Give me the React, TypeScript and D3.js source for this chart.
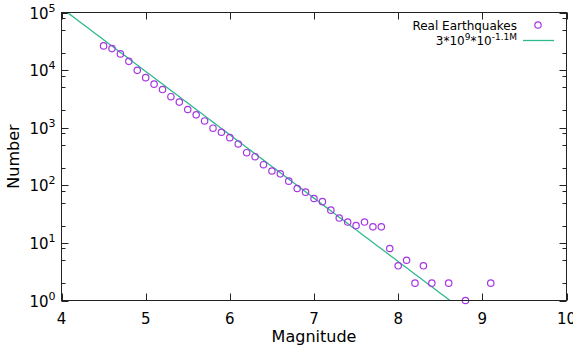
import { useEffect, useRef } from "react";
import * as d3 from "d3";

// magnitude bins and observed counts
const magnitudes = [
  4.5, 4.6, 4.7, 4.8, 4.9, 5.0, 5.1, 5.2, 5.3, 5.4, 5.5, 5.6, 5.7, 5.8, 5.9,
  6.0, 6.1, 6.2, 6.3, 6.4, 6.5, 6.6, 6.7, 6.8, 6.9, 7.0, 7.1, 7.2, 7.3, 7.4,
  7.5, 7.6, 7.7, 7.8, 7.9, 8.0, 8.1, 8.2, 8.3, 8.4, 8.6, 8.8, 9.1,
];
const counts = [
  26300, 23600, 19100, 14200, 9900, 7400, 5700, 4600, 3450, 2780, 2070, 1670,
  1310, 980, 834, 672, 522, 368, 314, 228, 177, 158, 118, 88, 76, 59, 52, 37,
  27, 23, 20, 23, 19, 19, 8, 4, 5, 2, 4, 2, 2, 1, 2,
];

// fit: N = 3e9 * 10^(-1.1 M)
const fitA = 3e9;
const fitB = 1.1;
const fitRange = [4, 10];

const xTicks = [4, 5, 6, 7, 8, 9, 10];
const yExponents = [0, 1, 2, 3, 4, 5];
const minorFactors = [2, 5, 8];

const legendPoints = "Real Earthquakes";

function App() {
  const svgRef = useRef<SVGSVGElement>(null);

  useEffect(() => {
    const width = 573;
    const height = 351;
    const left = 61.5;
    const right = 566.5;
    const top = 12.5;
    const bottom = 300.5;
    const font = "'DejaVu Sans', Verdana, sans-serif";

    const svg = d3.select(svgRef.current);
    svg.selectAll("*").remove();
    svg.attr("width", width).attr("height", height);

    const x = d3.scaleLinear().domain([4, 10]).range([left, right]);
    const y = d3.scaleLog().domain([1, 1e5]).range([bottom, top]);

    svg
      .append("defs")
      .append("clipPath")
      .attr("id", "plot-clip")
      .append("rect")
      .attr("x", left)
      .attr("y", top)
      .attr("width", right - left)
      .attr("height", bottom - top);

    // ticks (mirrored on all sides, pointing inward)
    const tickG = svg.append("g").attr("stroke", "#222").attr("stroke-width", 1);
    xTicks.forEach((t) => {
      const px = Math.round(x(t)) + 0.5;
      tickG.append("line").attr("x1", px).attr("x2", px).attr("y1", bottom).attr("y2", bottom - 7);
      tickG.append("line").attr("x1", px).attr("x2", px).attr("y1", top).attr("y2", top + 7);
    });
    yExponents.forEach((e) => {
      const py = Math.round(y(Math.pow(10, e))) + 0.5;
      tickG.append("line").attr("x1", left).attr("x2", left + 7).attr("y1", py).attr("y2", py);
      tickG.append("line").attr("x1", right).attr("x2", right - 7).attr("y1", py).attr("y2", py);
      if (e < 5) {
        minorFactors.forEach((f) => {
          const my = Math.round(y(f * Math.pow(10, e))) + 0.5;
          tickG.append("line").attr("x1", left).attr("x2", left + 4).attr("y1", my).attr("y2", my);
          tickG.append("line").attr("x1", right).attr("x2", right - 4).attr("y1", my).attr("y2", my);
        });
      }
    });

    // fitted line
    const fitData = d3.range(fitRange[0], fitRange[1] + 0.001, 0.05).map((m) => ({
      m,
      n: fitA * Math.pow(10, -fitB * m),
    }));
    const line = d3
      .line<{ m: number; n: number }>()
      .x((d) => x(d.m))
      .y((d) => y(Math.max(d.n, 1e-3)));
    svg
      .append("path")
      .datum(fitData)
      .attr("clip-path", "url(#plot-clip)")
      .attr("d", line)
      .attr("fill", "none")
      .attr("stroke", "#2fb890")
      .attr("stroke-width", 1.3);

    // data points
    svg
      .append("g")
      .selectAll("circle")
      .data(magnitudes.map((m, i) => ({ m, n: counts[i] })))
      .enter()
      .append("circle")
      .attr("cx", (d) => x(d.m))
      .attr("cy", (d) => y(d.n))
      .attr("r", 3.2)
      .attr("fill", "none")
      .attr("stroke", "#a536e3")
      .attr("stroke-width", 1.2);

    // frame
    svg
      .append("rect")
      .attr("x", left)
      .attr("y", top)
      .attr("width", right - left)
      .attr("height", bottom - top)
      .attr("fill", "none")
      .attr("stroke", "#222")
      .attr("stroke-width", 1);

    // x tick labels
    svg
      .append("g")
      .selectAll("text")
      .data(xTicks)
      .enter()
      .append("text")
      .attr("x", (d) => x(d))
      .attr("y", bottom + 23)
      .attr("text-anchor", "middle")
      .style("font-family", font)
      .style("font-size", "15px")
      .text((d) => d);

    // y tick labels: 10^e
    const yl = svg
      .append("g")
      .selectAll("text")
      .data(yExponents)
      .enter()
      .append("text")
      .attr("x", left - 6)
      .attr("y", (d) => y(Math.pow(10, d)) + 6)
      .attr("text-anchor", "end")
      .style("font-family", font)
      .style("font-size", "15px");
    yl.append("tspan").text("10");
    yl.append("tspan")
      .attr("dy", -7)
      .style("font-size", "11px")
      .text((d) => d);

    // axis titles
    svg
      .append("text")
      .attr("x", (left + right) / 2)
      .attr("y", 342)
      .attr("text-anchor", "middle")
      .style("font-family", font)
      .style("font-size", "16px")
      .text("Magnitude");
    svg
      .append("text")
      .attr("transform", `translate(19, ${(top + bottom) / 2}) rotate(-90)`)
      .attr("text-anchor", "middle")
      .style("font-family", font)
      .style("font-size", "16px")
      .text("Number");

    // legend
    const lg = svg.append("g").style("font-family", font).style("font-size", "12px");
    lg.append("text").attr("x", 517).attr("y", 30).attr("text-anchor", "end").text(legendPoints);
    lg.append("circle")
      .attr("cx", 538)
      .attr("cy", 25)
      .attr("r", 3.2)
      .attr("fill", "none")
      .attr("stroke", "#a536e3")
      .attr("stroke-width", 1.2);
    const fitLabel = lg.append("text").attr("x", 517).attr("y", 45).attr("text-anchor", "end");
    fitLabel.append("tspan").text("3*10");
    fitLabel.append("tspan").attr("dy", -5).style("font-size", "9px").text("9");
    fitLabel.append("tspan").attr("dy", 5).text("*10");
    fitLabel.append("tspan").attr("dy", -5).style("font-size", "9px").text("-1.1M");
    lg.append("line")
      .attr("x1", 523)
      .attr("x2", 554)
      .attr("y1", 40.5)
      .attr("y2", 40.5)
      .attr("stroke", "#2fb890")
      .attr("stroke-width", 1.3);
  }, []);

  return (
    <svg
      ref={svgRef}
      style={{ position: "absolute", left: 0, top: 0, background: "#fff" }}
    ></svg>
  );
}

export default App;
